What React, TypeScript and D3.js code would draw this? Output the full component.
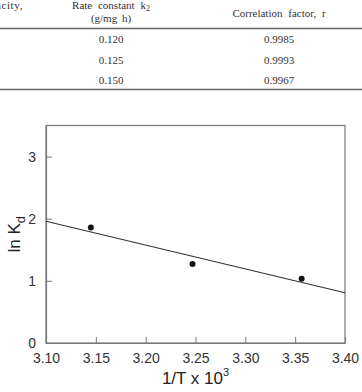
import { useEffect, useRef } from "react"
import * as d3 from "d3"

// table fragment above the figure
const rateConstants = ["0.120", "0.125", "0.150"]
const correlationFactors = ["0.9985", "0.9993", "0.9967"]

// ln Kd vs 1/T x 10^3
const invT = [3.145, 3.247, 3.3565]
const lnKd = [1.86, 1.27, 1.035]
const fitX = [3.1, 3.4]
const fitY = [1.96, 0.81]

const xTicks = [3.1, 3.15, 3.2, 3.25, 3.3, 3.35, 3.4]
const yTicks = [0, 1, 2, 3]

export default function App() {
  const svgRef = useRef<SVGSVGElement>(null)

  useEffect(() => {
    if (!svgRef.current) return
    const svg = d3.select(svgRef.current)
    svg.selectAll("*").remove()

    const width = 362
    const height = 392
    svg.attr("width", width).attr("height", height)

    // ---- table ----
    const tbl = svg.append("g").attr("font-family", "'Liberation Serif', 'Times New Roman', serif").attr("font-size", 11).attr("fill", "#333")

    tbl.append("text").attr("x", 23).attr("y", 9).attr("text-anchor", "end").attr("letter-spacing", 0.6).text("Capacity,")

    const rc = tbl.append("text").attr("x", 111).attr("y", 9).attr("text-anchor", "middle").attr("word-spacing", 3)
    rc.append("tspan").text("Rate constant k")
    rc.append("tspan").attr("font-size", 8).attr("dy", 2).text("2")
    tbl.append("text").attr("x", 111).attr("y", 22).attr("text-anchor", "middle").attr("word-spacing", 2).text("(g/mg h)")
    tbl.append("text").attr("x", 279).attr("y", 17).attr("text-anchor", "middle").attr("word-spacing", 3).text("Correlation factor, r")

    const rowY = d3.scalePoint<number>().domain([0, 1, 2]).range([43, 84])
    rateConstants.forEach((v, i) => {
      tbl.append("text").attr("x", 111).attr("y", rowY(i)!).attr("text-anchor", "middle").text(v)
      tbl.append("text").attr("x", 279).attr("y", rowY(i)!).attr("text-anchor", "middle").text(correlationFactors[i])
    })

    tbl.append("line").attr("x1", 0).attr("x2", width).attr("y1", 28.5).attr("y2", 28.5).attr("stroke", "#666").attr("stroke-width", 1.3)
    tbl.append("line").attr("x1", 0).attr("x2", width).attr("y1", 89.5).attr("y2", 89.5).attr("stroke", "#666").attr("stroke-width", 1.3)

    // ---- chart ----
    const left = 46
    const right = 345
    const top = 125.5
    const bottom = 343

    const x = d3.scaleLinear().domain([3.1, 3.4]).range([left, right])
    const y = d3.scaleLinear().domain([0, 3.5]).range([bottom, top])

    const g = svg.append("g")

    // frame
    g.append("rect")
      .attr("x", left)
      .attr("y", top)
      .attr("width", right - left)
      .attr("height", bottom - top)
      .attr("fill", "none")
      .attr("stroke", "#777")
      .attr("stroke-width", 1.2)

    const font = "'Liberation Sans', Arial, sans-serif"

    const xAxis = g
      .append("g")
      .attr("transform", `translate(0,${bottom})`)
      .call(
        d3
          .axisBottom(x)
          .tickValues(xTicks)
          .tickSizeInner(-6)
          .tickSizeOuter(0)
          .tickPadding(10)
          .tickFormat(d3.format(".2f")),
      )
    xAxis.select(".domain").attr("stroke", "#777").attr("stroke-width", 1.2)
    xAxis.selectAll("line").attr("stroke", "#777")
    xAxis.selectAll("text").attr("font-family", font).attr("font-size", 14).attr("fill", "#333")

    const yAxis = g
      .append("g")
      .attr("transform", `translate(${left},0)`)
      .call(d3.axisLeft(y).tickValues(yTicks).tickSizeInner(-6).tickSizeOuter(0).tickPadding(10).tickFormat(d3.format("d")))
    yAxis.select(".domain").attr("stroke", "#777").attr("stroke-width", 1.2)
    yAxis.selectAll("line").attr("stroke", "#777")
    yAxis.selectAll("text").attr("font-family", font).attr("font-size", 14).attr("fill", "#333")

    // fit line
    const line = d3
      .line<number>()
      .x((_, i) => x(fitX[i]))
      .y((d) => y(d))
    g.append("path").datum(fitY).attr("d", line).attr("fill", "none").attr("stroke", "#333").attr("stroke-width", 1.1)

    // points
    g.selectAll("circle.pt")
      .data(invT)
      .enter()
      .append("circle")
      .attr("class", "pt")
      .attr("cx", (d) => x(d))
      .attr("cy", (_, i) => y(lnKd[i]))
      .attr("r", 3)
      .attr("fill", "#111")

    // axis titles
    const xt = g
      .append("text")
      .attr("x", (left + right) / 2)
      .attr("y", 384)
      .attr("text-anchor", "middle")
      .attr("font-family", font)
      .attr("font-size", 17)
      .attr("fill", "#222")
    xt.append("tspan").text("1/T x 10")
    xt.append("tspan").attr("font-size", 11).attr("dy", -8).text("3")

    const yt = g
      .append("text")
      .attr("transform", `translate(20,${(top + bottom) / 2}) rotate(-90)`)
      .attr("text-anchor", "middle")
      .attr("font-family", font)
      .attr("font-size", 17)
      .attr("fill", "#222")
    yt.append("tspan").text("ln K")
    yt.append("tspan").attr("font-size", 13).attr("dy", 5).text("d")
  }, [])

  return <svg ref={svgRef} style={{ position: "absolute", left: 0, top: 0 }} />
}
